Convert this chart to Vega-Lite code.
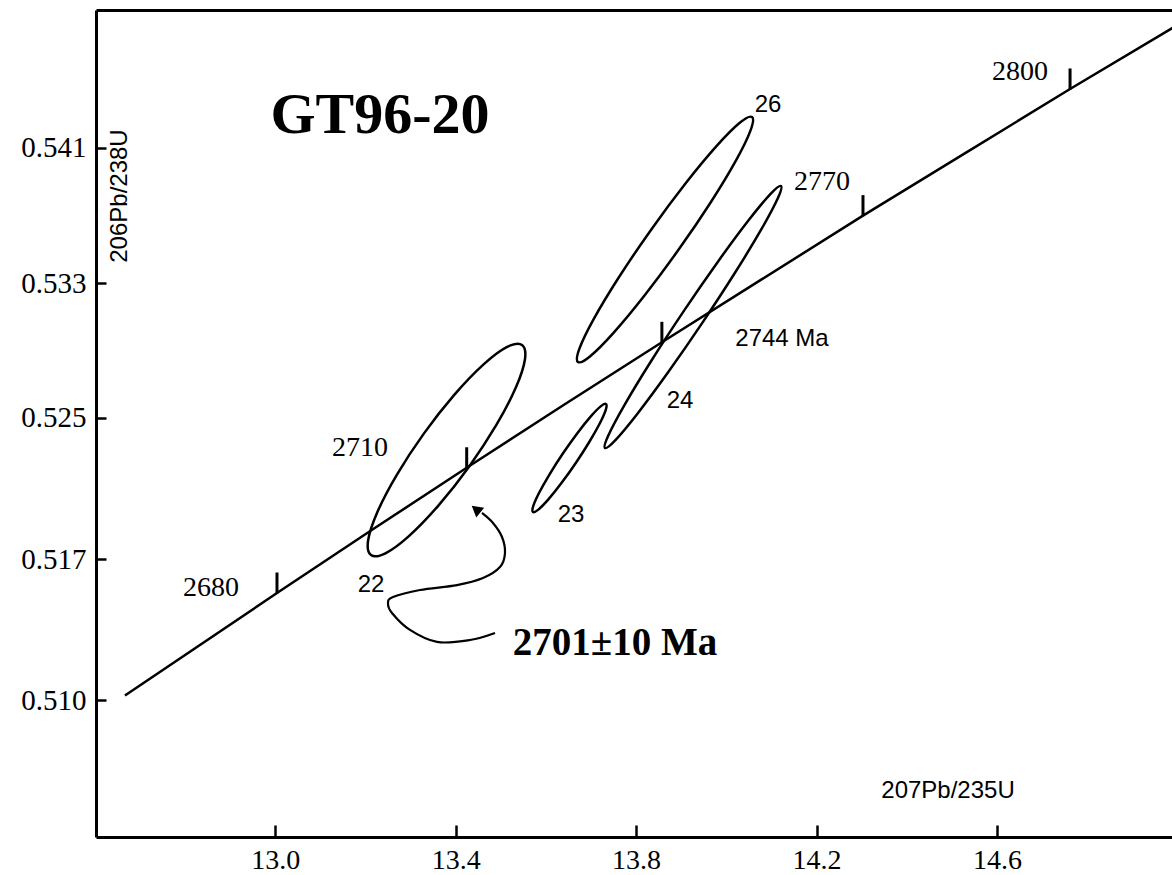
{
  "$schema": "https://vega.github.io/schema/vega-lite/v6.json",
  "width": 1076,
  "height": 827,
  "autosize": {"type": "none"},
  "padding": {"left": 96, "top": 10, "right": 0, "bottom": 38},
  "background": "white",
  "config": {
    "view": {"stroke": null},
    "axis": {"grid": false, "domainColor": "black", "tickColor": "black", "labelColor": "black"}
  },
  "datasets": {
    "concordia": [
      {"age": 2655, "x": 12.667, "y": 0.50966},
      {"age": 2680, "x": 13.004, "y": 0.51546},
      {"age": 2695, "x": 13.2132, "y": 0.51901},
      {"age": 2710, "x": 13.4245, "y": 0.52255},
      {"age": 2725, "x": 13.6394, "y": 0.5261},
      {"age": 2740, "x": 13.8572, "y": 0.52965},
      {"age": 2755, "x": 14.0783, "y": 0.53321},
      {"age": 2770, "x": 14.303, "y": 0.53682},
      {"age": 2785, "x": 14.5305, "y": 0.54037},
      {"age": 2800, "x": 14.762, "y": 0.54399},
      {"age": 2815, "x": 14.9962, "y": 0.54755}
    ],
    "ticks": [
      {"age": 2680, "x": 13.004, "y": 0.51546},
      {"age": 2710, "x": 13.4245, "y": 0.52255},
      {"age": 2740, "x": 13.8572, "y": 0.52965},
      {"age": 2770, "x": 14.303, "y": 0.53682},
      {"age": 2800, "x": 14.762, "y": 0.54399}
    ],
    "ellipses": [
      {"id": "22", "k": 0, "x": 13.5472, "y": 0.529499},
      {"id": "22", "k": 1, "x": 13.5537, "y": 0.528692},
      {"id": "22", "k": 2, "x": 13.5337, "y": 0.527102},
      {"id": "22", "k": 3, "x": 13.4903, "y": 0.524973},
      {"id": "22", "k": 4, "x": 13.4301, "y": 0.522627},
      {"id": "22", "k": 5, "x": 13.3622, "y": 0.520423},
      {"id": "22", "k": 6, "x": 13.297, "y": 0.518696},
      {"id": "22", "k": 7, "x": 13.2444, "y": 0.517708},
      {"id": "22", "k": 8, "x": 13.2124, "y": 0.517611},
      {"id": "22", "k": 9, "x": 13.2059, "y": 0.518418},
      {"id": "22", "k": 10, "x": 13.2259, "y": 0.520008},
      {"id": "22", "k": 11, "x": 13.2693, "y": 0.522137},
      {"id": "22", "k": 12, "x": 13.3295, "y": 0.524483},
      {"id": "22", "k": 13, "x": 13.3974, "y": 0.526687},
      {"id": "22", "k": 14, "x": 13.4626, "y": 0.528414},
      {"id": "22", "k": 15, "x": 13.5152, "y": 0.529402},
      {"id": "23", "k": 0, "x": 13.7333, "y": 0.526159},
      {"id": "23", "k": 1, "x": 13.7328, "y": 0.525829},
      {"id": "23", "k": 2, "x": 13.72, "y": 0.525084},
      {"id": "23", "k": 3, "x": 13.6969, "y": 0.524037},
      {"id": "23", "k": 4, "x": 13.6671, "y": 0.522848},
      {"id": "23", "k": 5, "x": 13.635, "y": 0.521697},
      {"id": "23", "k": 6, "x": 13.6056, "y": 0.52076},
      {"id": "23", "k": 7, "x": 13.5833, "y": 0.520181},
      {"id": "23", "k": 8, "x": 13.5715, "y": 0.520045},
      {"id": "23", "k": 9, "x": 13.572, "y": 0.520375},
      {"id": "23", "k": 10, "x": 13.5848, "y": 0.52112},
      {"id": "23", "k": 11, "x": 13.6079, "y": 0.522167},
      {"id": "23", "k": 12, "x": 13.6377, "y": 0.523356},
      {"id": "23", "k": 13, "x": 13.6698, "y": 0.524507},
      {"id": "23", "k": 14, "x": 13.6992, "y": 0.525444},
      {"id": "23", "k": 15, "x": 13.7215, "y": 0.526023},
      {"id": "24", "k": 0, "x": 14.1213, "y": 0.538498},
      {"id": "24", "k": 1, "x": 14.1142, "y": 0.537801},
      {"id": "24", "k": 2, "x": 14.0785, "y": 0.536081},
      {"id": "24", "k": 3, "x": 14.0196, "y": 0.5336},
      {"id": "24", "k": 4, "x": 13.9464, "y": 0.530736},
      {"id": "24", "k": 5, "x": 13.8702, "y": 0.527924},
      {"id": "24", "k": 6, "x": 13.8026, "y": 0.525595},
      {"id": "24", "k": 7, "x": 13.7537, "y": 0.524099},
      {"id": "24", "k": 8, "x": 13.7311, "y": 0.523668},
      {"id": "24", "k": 9, "x": 13.7382, "y": 0.524365},
      {"id": "24", "k": 10, "x": 13.7739, "y": 0.526085},
      {"id": "24", "k": 11, "x": 13.8328, "y": 0.528566},
      {"id": "24", "k": 12, "x": 13.906, "y": 0.53143},
      {"id": "24", "k": 13, "x": 13.9822, "y": 0.534242},
      {"id": "24", "k": 14, "x": 14.0498, "y": 0.536571},
      {"id": "24", "k": 15, "x": 14.0987, "y": 0.538067},
      {"id": "26", "k": 0, "x": 14.057, "y": 0.542404},
      {"id": "26", "k": 1, "x": 14.054, "y": 0.541663},
      {"id": "26", "k": 2, "x": 14.0222, "y": 0.539979},
      {"id": "26", "k": 3, "x": 13.9663, "y": 0.537609},
      {"id": "26", "k": 4, "x": 13.8948, "y": 0.534913},
      {"id": "26", "k": 5, "x": 13.8187, "y": 0.532301},
      {"id": "26", "k": 6, "x": 13.7495, "y": 0.530173},
      {"id": "26", "k": 7, "x": 13.6977, "y": 0.528851},
      {"id": "26", "k": 8, "x": 13.6712, "y": 0.528536},
      {"id": "26", "k": 9, "x": 13.6742, "y": 0.529277},
      {"id": "26", "k": 10, "x": 13.706, "y": 0.530961},
      {"id": "26", "k": 11, "x": 13.7619, "y": 0.533331},
      {"id": "26", "k": 12, "x": 13.8334, "y": 0.536027},
      {"id": "26", "k": 13, "x": 13.9095, "y": 0.538639},
      {"id": "26", "k": 14, "x": 13.9787, "y": 0.540767},
      {"id": "26", "k": 15, "x": 14.0305, "y": 0.542089}
    ],
    "arrow": [
      {"k": 0, "x": 13.4873, "y": 0.5132},
      {"k": 1, "x": 13.4318, "y": 0.5128},
      {"k": 2, "x": 13.3587, "y": 0.51269},
      {"k": 3, "x": 13.2988, "y": 0.51337},
      {"k": 4, "x": 13.2589, "y": 0.51433},
      {"k": 5, "x": 13.2501, "y": 0.51489},
      {"k": 6, "x": 13.2611, "y": 0.51523},
      {"k": 7, "x": 13.321, "y": 0.51563},
      {"k": 8, "x": 13.403, "y": 0.51591},
      {"k": 9, "x": 13.4607, "y": 0.51631},
      {"k": 10, "x": 13.4983, "y": 0.51693},
      {"k": 11, "x": 13.5094, "y": 0.51772},
      {"k": 12, "x": 13.5028, "y": 0.51863},
      {"k": 13, "x": 13.4828, "y": 0.51942},
      {"k": 14, "x": 13.4584, "y": 0.51999}
    ],
    "arrowhead": [{"x": 13.4451, "y": 0.52021}],
    "serifLabels": [
      {"label": "2680", "x": 12.8577, "y": 0.51574},
      {"label": "2710", "x": 13.188, "y": 0.52367},
      {"label": "2770", "x": 14.2122, "y": 0.53872},
      {"label": "2800", "x": 14.6511, "y": 0.54495}
    ],
    "sansLabels": [
      {"label": "26", "x": 14.0924, "y": 0.54308},
      {"label": "24", "x": 13.8974, "y": 0.52633},
      {"label": "23", "x": 13.6557, "y": 0.51988},
      {"label": "22", "x": 13.2124, "y": 0.51591},
      {"label": "2744 Ma", "x": 14.1235, "y": 0.52984},
      {"label": "207Pb/235U", "x": 14.4915, "y": 0.50425}
    ],
    "yTitle": [{"label": "206Pb/238U", "x": 12.656, "y": 0.53793}],
    "title": [{"label": "GT96-20", "x": 13.2323, "y": 0.54246}],
    "result": [{"label": "2701±10 Ma", "x": 13.7533, "y": 0.51263}]
  },
  "resolve": {"axis": {"x": "independent", "y": "independent"}},
  "layer": [
    {
      "data": {"name": "concordia"},
      "mark": {"type": "line", "color": "black", "strokeWidth": 2.5, "clip": true},
      "encoding": {
        "x": {"field": "x", "type": "quantitative", "scale": {"domain": [12.6028, 14.988], "nice": false, "zero": false},
          "axis": {"orient": "bottom", "values": [13.0, 13.4, 13.8, 14.2, 14.6], "format": ".1f", "title": null, "domainWidth": 3, "tickSize": -12, "tickWidth": 2.5, "labelFont": "Liberation Serif", "labelFontSize": 28, "labelPadding": 21, "labelOverlap": false, "labelFlush": false}},
        "y": {"field": "y", "type": "quantitative", "scale": {"domain": [0.50165, 0.54846], "nice": false, "zero": false},
          "axis": {"orient": "left", "values": [0.5094, 0.51736, 0.52539, 0.53298, 0.54065], "labelExpr": "datum.value > 0.537 ? '0.541' : datum.value > 0.529 ? '0.533' : datum.value > 0.521 ? '0.525' : datum.value > 0.513 ? '0.517' : '0.510'", "title": null, "domainWidth": 3, "tickSize": -10, "tickWidth": 2.5, "labelFont": "Liberation Serif", "labelFontSize": 29, "labelPadding": 20, "labelOverlap": false, "labelFlush": false}},
        "order": {"field": "age", "type": "quantitative"}
      }
    },
    {
      "data": {"name": "ticks"},
      "mark": {"type": "tick", "orient": "vertical", "color": "black", "thickness": 3, "size": 21, "yOffset": -10, "opacity": 1},
      "encoding": {
        "x": {"field": "x", "type": "quantitative", "scale": {"domain": [12.6028, 14.988], "nice": false, "zero": false},
          "axis": {"orient": "top", "labels": false, "ticks": false, "domain": true, "domainWidth": 3, "title": null}},
        "y": {"field": "y", "type": "quantitative", "scale": {"domain": [0.50165, 0.54846], "nice": false, "zero": false}, "axis": null}
      }
    },
    {
      "data": {"name": "ellipses"},
      "mark": {"type": "line", "interpolate": "cardinal-closed", "color": "black", "strokeWidth": 2.5},
      "encoding": {
        "x": {"field": "x", "type": "quantitative", "scale": {"domain": [12.6028, 14.988], "nice": false, "zero": false}, "axis": null},
        "y": {"field": "y", "type": "quantitative", "scale": {"domain": [0.50165, 0.54846], "nice": false, "zero": false}, "axis": null},
        "detail": {"field": "id", "type": "nominal"},
        "order": {"field": "k", "type": "quantitative"}
      }
    },
    {
      "data": {"name": "arrow"},
      "mark": {"type": "line", "interpolate": "cardinal", "color": "black", "strokeWidth": 2.2},
      "encoding": {
        "x": {"field": "x", "type": "quantitative", "scale": {"domain": [12.6028, 14.988], "nice": false, "zero": false}, "axis": null},
        "y": {"field": "y", "type": "quantitative", "scale": {"domain": [0.50165, 0.54846], "nice": false, "zero": false}, "axis": null},
        "order": {"field": "k", "type": "quantitative"}
      }
    },
    {
      "data": {"name": "arrowhead"},
      "mark": {"type": "point", "shape": "triangle-up", "filled": true, "color": "black", "opacity": 1, "size": 160, "angle": 309},
      "encoding": {
        "x": {"field": "x", "type": "quantitative", "scale": {"domain": [12.6028, 14.988], "nice": false, "zero": false}, "axis": null},
        "y": {"field": "y", "type": "quantitative", "scale": {"domain": [0.50165, 0.54846], "nice": false, "zero": false}, "axis": null}
      }
    },
    {
      "data": {"name": "serifLabels"},
      "mark": {"type": "text", "font": "Liberation Serif", "fontSize": 28, "color": "black", "align": "center", "baseline": "middle"},
      "encoding": {
        "x": {"field": "x", "type": "quantitative", "scale": {"domain": [12.6028, 14.988], "nice": false, "zero": false}, "axis": null},
        "y": {"field": "y", "type": "quantitative", "scale": {"domain": [0.50165, 0.54846], "nice": false, "zero": false}, "axis": null},
        "text": {"field": "label"}
      }
    },
    {
      "data": {"name": "sansLabels"},
      "mark": {"type": "text", "font": "Liberation Sans", "fontSize": 24, "color": "black", "align": "center", "baseline": "middle"},
      "encoding": {
        "x": {"field": "x", "type": "quantitative", "scale": {"domain": [12.6028, 14.988], "nice": false, "zero": false}, "axis": null},
        "y": {"field": "y", "type": "quantitative", "scale": {"domain": [0.50165, 0.54846], "nice": false, "zero": false}, "axis": null},
        "text": {"field": "label"}
      }
    },
    {
      "data": {"name": "yTitle"},
      "mark": {"type": "text", "font": "Liberation Sans", "fontSize": 24, "color": "black", "align": "center", "baseline": "middle", "angle": 270},
      "encoding": {
        "x": {"field": "x", "type": "quantitative", "scale": {"domain": [12.6028, 14.988], "nice": false, "zero": false}, "axis": null},
        "y": {"field": "y", "type": "quantitative", "scale": {"domain": [0.50165, 0.54846], "nice": false, "zero": false}, "axis": null},
        "text": {"field": "label"}
      }
    },
    {
      "data": {"name": "title"},
      "mark": {"type": "text", "font": "Liberation Serif", "fontSize": 58, "fontWeight": "bold", "color": "black", "align": "center", "baseline": "middle"},
      "encoding": {
        "x": {"field": "x", "type": "quantitative", "scale": {"domain": [12.6028, 14.988], "nice": false, "zero": false}, "axis": null},
        "y": {"field": "y", "type": "quantitative", "scale": {"domain": [0.50165, 0.54846], "nice": false, "zero": false}, "axis": null},
        "text": {"field": "label"}
      }
    },
    {
      "data": {"name": "result"},
      "mark": {"type": "text", "font": "Liberation Serif", "fontSize": 39, "fontWeight": "bold", "color": "black", "align": "center", "baseline": "middle"},
      "encoding": {
        "x": {"field": "x", "type": "quantitative", "scale": {"domain": [12.6028, 14.988], "nice": false, "zero": false}, "axis": null},
        "y": {"field": "y", "type": "quantitative", "scale": {"domain": [0.50165, 0.54846], "nice": false, "zero": false}, "axis": null},
        "text": {"field": "label"}
      }
    }
  ]
}
